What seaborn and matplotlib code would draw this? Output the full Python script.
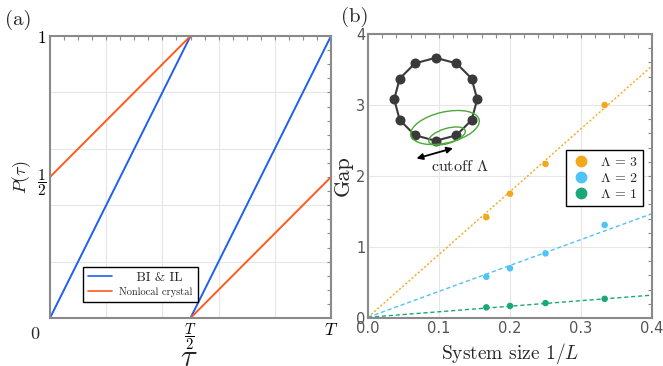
import numpy as np
import pandas as pd
import matplotlib
matplotlib.use("Agg")
import matplotlib.pyplot as plt
import seaborn as sns
from matplotlib.patches import Ellipse, FancyArrowPatch

sns.set_theme(style="white")
plt.rcParams['font.family'] = ['DejaVu Sans']
plt.rcParams['mathtext.fontset'] = 'cm'

# ---------------- data: panel (a) ----------------
tau_bi_seg1 = [0.0, 0.5]
p_bi_seg1 = [0.0, 1.0]
tau_bi_seg2 = [0.5, 1.0]
p_bi_seg2 = [0.0, 1.0]
tau_nl_seg1 = [0.0, 0.5]
p_nl_seg1 = [0.5, 1.0]
tau_nl_seg2 = [0.5, 1.0]
p_nl_seg2 = [0.0, 0.5]
a_xtick_pos = [0.5, 1.0]
a_xtick_labels = [r"$\dfrac{T}{2}$", r"$T$"]
a_ytick_pos = [0.5, 1.0]
a_ytick_labels = [r"$\dfrac{1}{2}$", r"$1$"]
a_grid = [0.2, 0.4, 0.6, 0.8]
a_legend_labels = ["    BI & IL", "Nonlocal crystal"]

# ---------------- data: panel (b) ----------------
inv_L = [1/6, 1/5, 1/4, 1/3]
gap_lam3 = [1.42, 1.75, 2.17, 3.00]
gap_lam2 = [0.58, 0.70, 0.91, 1.31]
gap_lam1 = [0.15, 0.17, 0.21, 0.27]
fit_slopes = [8.85, 3.65, 0.78]      # Λ=3, Λ=2, Λ=1
fit_intercepts = [0.01, 0.01, 0.01]
fit_x = [0.0, 0.4]
lam_labels = [r"$\Lambda\,=\,3$", r"$\Lambda\,=\,2$", r"$\Lambda\,=\,1$"]
lam_colors = ["#f2a81d", "#4ec3f5", "#19a878"]
fit_dashes = [(1.5, 1.5), (3, 2), (3, 2)]
b_xticks = [0.0, 0.1, 0.2, 0.3, 0.4]
b_yticks = [0, 1, 2, 3, 4]

blue = "#1f5ff0"
orange = "#ff5a1e"
frame_col = "#8a8a8a"
grid_col = "#e6e6e6"
CM = "cmr10"

fig = plt.figure(figsize=(6.63, 3.66), dpi=100)
axa = fig.add_axes([50/663, 48/366, 281/663, 282/366])
axb = fig.add_axes([368/663, 48/366, 284/663, 284/366])

# ---------------- panel (a) ----------------
df_a = pd.DataFrame({
    "tau": tau_bi_seg1 + tau_bi_seg2 + tau_nl_seg1 + tau_nl_seg2,
    "P": p_bi_seg1 + p_bi_seg2 + p_nl_seg1 + p_nl_seg2,
    "model": ["BI"] * 4 + ["NL"] * 4,
    "seg": [0, 0, 1, 1, 2, 2, 3, 3],
})
for g in a_grid:
    axa.axvline(g, color=grid_col, lw=0.8, zorder=0)
    axa.axhline(g, color=grid_col, lw=0.8, zorder=0)
sns.lineplot(data=df_a, x="tau", y="P", hue="model", units="seg",
             estimator=None, sort=False, palette={"BI": blue, "NL": orange},
             lw=1.4, ax=axa, legend=False)
axa.set_xlim(0, 1)
axa.set_ylim(0, 1)
axa.set_xticks(a_xtick_pos)
axa.set_xticklabels(a_xtick_labels, fontsize=10.5)
axa.set_yticks(a_ytick_pos)
axa.set_yticklabels(a_ytick_labels, fontsize=11)
axa.get_xticklabels()[1].set_fontsize(12.5)
axa.get_yticklabels()[1].set_fontsize(12.5)
axa.set_xticks(np.arange(0, 1.0001, 0.05), minor=True)
axa.set_yticks(np.arange(0, 1.0001, 0.05), minor=True)
axa.tick_params(which="both", direction="in", top=True, right=True,
                color=frame_col, length=3, width=0.8, pad=2.5, labelcolor="black")
axa.text(-0.035, -0.025, r"$0$", transform=axa.transAxes, fontsize=13,
         ha="right", va="top")
axa.set_xlabel("")
fig.text(189/663, 0.0, r"$\tau$", fontsize=22, ha="center", va="baseline")
axa.set_ylabel(r"$P(\tau)$", fontsize=13, labelpad=3)
for s in axa.spines.values():
    s.set_color(frame_col)
    s.set_linewidth(1.5)
h_bi, = axa.plot([], [], color=blue, lw=1.2)
h_nl, = axa.plot([], [], color=orange, lw=1.2)
lega = axa.legend([h_bi, h_nl], a_legend_labels, fontsize=9,
                  loc="lower left", bbox_to_anchor=(0.117, 0.057), fancybox=False,
                  edgecolor="black", framealpha=1, handlelength=1.9,
                  borderpad=0.4, labelspacing=0.2, handletextpad=0.6,
                  borderaxespad=0)
lega.get_frame().set_linewidth(1.0)
lega.get_texts()[0].set_fontsize(9.5)
lega.get_texts()[1].set_fontsize(7.5)
for t in lega.get_texts():
    t.set_fontfamily(CM)
fig.text(5/663, 1 - 20/366, "(a)", fontsize=15, ha="left", va="center", family=CM)

# ---------------- panel (b) ----------------
df_b = pd.DataFrame({
    "x": inv_L * 3,
    "gap": gap_lam3 + gap_lam2 + gap_lam1,
    "lam": [lam_labels[0]] * 4 + [lam_labels[1]] * 4 + [lam_labels[2]] * 4,
})
for xt in b_xticks[1:-1]:
    axb.axvline(xt, color=grid_col, lw=0.8, zorder=0)
for yt in b_yticks[1:-1]:
    axb.axhline(yt, color=grid_col, lw=0.8, zorder=0)
for slope, icpt, col, dsh in zip(fit_slopes, fit_intercepts, lam_colors, fit_dashes):
    xs = np.array(fit_x)
    axb.plot(xs, icpt + slope * xs, color=col, lw=1.0, dashes=dsh, zorder=2)
sns.scatterplot(data=df_b, x="x", y="gap", hue="lam", hue_order=lam_labels,
                palette=dict(zip(lam_labels, lam_colors)), s=22, edgecolor="none",
                ax=axb, legend=False, zorder=3)
axb.set_xlim(0, 0.4)
axb.set_ylim(0, 4)
axb.set_xticks(b_xticks)
axb.set_xticklabels([f"{v:.1f}" for v in b_xticks])
axb.set_yticks(b_yticks)
axb.set_yticklabels([str(v) for v in b_yticks])
axb.set_xticks(np.arange(0, 0.4001, 0.02), minor=True)
axb.set_yticks(np.arange(0, 4.001, 0.2), minor=True)
axb.tick_params(which="both", direction="in", top=True, right=True,
                color=frame_col, length=3, width=0.8, labelsize=10.5,
                labelcolor="#555555", pad=2)
axb.set_xlabel(r"System size $1/L$", fontsize=14, labelpad=4, family=CM)
axb.set_ylabel("Gap", fontsize=16, labelpad=2, family=CM)
for s in axb.spines.values():
    s.set_color(frame_col)
    s.set_linewidth(1.5)
handles = [axb.plot([], [], ls="none", marker="o", ms=7.5, color=c)[0] for c in lam_colors]
legb = axb.legend(handles, lam_labels, loc="upper right", bbox_to_anchor=(0.968, 0.592),
                  fancybox=False, edgecolor="black", framealpha=1, fontsize=10,
                  borderpad=0.35, labelspacing=0.15, handletextpad=0.7, handlelength=1.4,
                  borderaxespad=0)
legb.get_frame().set_linewidth(1.0)
fig.text(341/663, 1 - 17/366, "(b)", fontsize=15, ha="left", va="center", family=CM)

# ---------------- inset: ring with cutoff ----------------
ins_x0, ins_x1, ins_y0, ins_y1 = 385, 505, 181, 321
axi = fig.add_axes([ins_x0/663, ins_y0/366, (ins_x1-ins_x0)/663, (ins_y1-ins_y0)/366])
axi.set_xlim(ins_x0, ins_x1)
axi.set_ylim(ins_y0, ins_y1)
axi.axis("off")
axi.patch.set_alpha(0)
n_sites = 12
ring_c = (435.7, 266.7)
ring_r = 41.5
ang = np.deg2rad(90 + 360 / n_sites * np.arange(n_sites + 1))
rx = ring_c[0] + ring_r * np.cos(ang)
ry = ring_c[1] + ring_r * np.sin(ang)
axi.plot(rx, ry, color="#3a3a3a", lw=1.5, zorder=2)
axi.plot(rx[:-1], ry[:-1], ls="none", marker="o", ms=6.2, color="#3a3a3a", zorder=3)
green = "#4da83a"
axi.add_patch(Ellipse((445, 238.5), 70, 31, angle=13, fill=False, ec=green, lw=1.0, zorder=4))
axi.add_patch(Ellipse((447, 230), 38, 15, angle=17, fill=False, ec=green, lw=1.0, zorder=4))
axi.add_patch(FancyArrowPatch((416.5, 207.5), (453, 217.8), arrowstyle="<|-|>",
                              mutation_scale=9, color="black", lw=1.3,
                              shrinkA=0, shrinkB=0))
axi.text(459.5, 199.5, r"cutoff $\Lambda$", fontsize=11.5, ha="center", va="center", family=CM)

fig.savefig("out.png", dpi=100)
